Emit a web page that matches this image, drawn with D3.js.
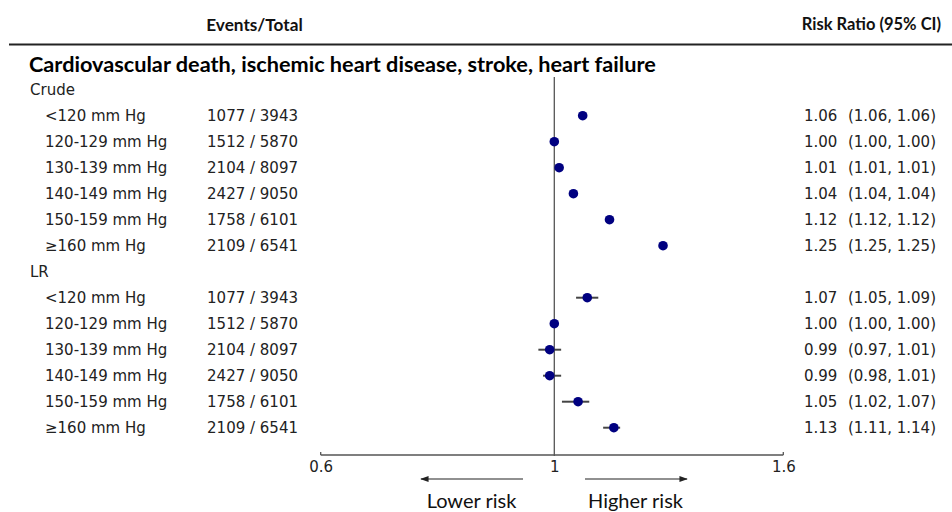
<!DOCTYPE html>
<html>
<head>
<meta charset="utf-8">
<script src="https://cdn.jsdelivr.net/npm/d3@7"></script>
<style>
  body { margin: 0; background: #fff; }
  svg { display: block; }
</style>
</head>
<body>
<script>
const width = 952;
const height = 512;

const title = "Cardiovascular death, ischemic heart disease, stroke, heart failure";
const groups = ["Crude", "LR"];
const categories = ["<120 mm Hg", "120-129 mm Hg", "130-139 mm Hg", "140-149 mm Hg", "150-159 mm Hg", "\u2265160 mm Hg"];
const events = ["1077 / 3943", "1512 / 5870", "2104 / 8097", "2427 / 9050", "1758 / 6101", "2109 / 6541"];

const crude_rr = [1.06, 1.00, 1.01, 1.04, 1.12, 1.25];
const crude_lo = [1.06, 1.00, 1.01, 1.04, 1.12, 1.25];
const crude_hi = [1.06, 1.00, 1.01, 1.04, 1.12, 1.25];

const lr_rr = [1.07, 1.00, 0.99, 0.99, 1.05, 1.13];
const lr_lo = [1.05, 1.00, 0.97, 0.98, 1.02, 1.11];
const lr_hi = [1.09, 1.00, 1.01, 1.01, 1.07, 1.14];

const tick_values = [0.6, 1, 1.6];

const label_font = "'DejaVu Sans', sans-serif";
const head_font = "Lato, 'Open Sans', sans-serif";
const point_color = "#000080";
const line_color = "#555";

// build rows: group header then its six categories
let rows = [];
let series = [[crude_rr, crude_lo, crude_hi], [lr_rr, lr_lo, lr_hi]];
groups.forEach(function(g, gi){
  rows.push({type: "group", label: g});
  categories.forEach(function(c, ci){
    rows.push({
      type: "item", label: c, events: events[ci],
      rr: series[gi][0][ci], lo: series[gi][1][ci], hi: series[gi][2][ci]
    });
  });
});

const row_top = 89.7;
const row_step = 26;
let y = d3.scaleLinear()
          .domain([0, rows.length - 1])
          .range([row_top, row_top + row_step * (rows.length - 1)]);

let x = d3.scaleLog()
          .domain([0.6, 1, 1.6])
          .range([320.7, 554.3, 783.3]);

let svg = d3.select("body").append("svg")
        .attr("width", width)
        .attr("height", height);

// header
svg.append("text")
   .attr("x", 254.5).attr("y", 24)
   .attr("text-anchor", "middle")
   .attr("dominant-baseline", "central")
   .attr("font-family", head_font)
   .attr("font-weight", "bold")
   .attr("font-size", 17.2)
   .attr("fill", "#111")
   .text("Events/Total");

svg.append("text")
   .attr("x", 941).attr("y", 24)
   .attr("text-anchor", "end")
   .attr("dominant-baseline", "central")
   .attr("font-family", head_font)
   .attr("font-weight", "bold")
   .attr("font-size", 16.5)
   .attr("fill", "#111")
   .text("Risk Ratio (95% CI)");

svg.append("line")
   .attr("x1", 9).attr("x2", width)
   .attr("y1", 44.5).attr("y2", 44.5)
   .attr("stroke", "#222")
   .attr("stroke-width", 2);

svg.append("text")
   .attr("x", 29).attr("y", 64)
   .attr("dominant-baseline", "central")
   .attr("font-family", head_font)
   .attr("font-weight", "bold")
   .attr("font-size", 21.7)
   .attr("fill", "#000")
   .text(title);

// reference line at 1
svg.append("line")
   .attr("x1", x(1)).attr("x2", x(1))
   .attr("y1", 77).attr("y2", 456)
   .attr("stroke", line_color)
   .attr("stroke-width", 1.3);

let row_g = svg.selectAll(".row")
   .data(rows)
   .enter().append("g")
   .attr("class", "row")
   .attr("transform", function(d, i){ return "translate(0," + y(i) + ")"; });

row_g.append("text")
   .attr("x", function(d){ return d.type == "group" ? 30 : 45; })
   .attr("dominant-baseline", "central")
   .attr("font-family", label_font)
   .attr("font-size", 15)
   .attr("fill", "#222")
   .text(function(d){ return d.label; });

let items = row_g.filter(function(d){ return d.type == "item"; });

items.append("text")
   .attr("x", 298)
   .attr("text-anchor", "end")
   .attr("dominant-baseline", "central")
   .attr("font-family", label_font)
   .attr("font-size", 15)
   .attr("fill", "#222")
   .text(function(d){ return d.events; });

items.append("text")
   .attr("x", 804)
   .attr("dominant-baseline", "central")
   .attr("font-family", label_font)
   .attr("font-size", 15)
   .attr("fill", "#222")
   .text(function(d){ return d.rr.toFixed(2); });

items.append("text")
   .attr("x", 936)
   .attr("text-anchor", "end")
   .attr("dominant-baseline", "central")
   .attr("font-family", label_font)
   .attr("font-size", 15)
   .attr("fill", "#222")
   .text(function(d){ return "(" + d.lo.toFixed(2) + ", " + d.hi.toFixed(2) + ")"; });

items.filter(function(d){ return d.hi > d.lo; })
   .append("line")
   .attr("x1", function(d){ return x(d.lo) - 2; })
   .attr("x2", function(d){ return x(d.hi) + 2; })
   .attr("stroke", "#444")
   .attr("stroke-width", 2);

items.append("circle")
   .attr("cx", function(d){ return x(d.rr); })
   .attr("r", 4.8)
   .attr("fill", point_color);

// x axis
let axis_y = 455;
let x_axis = d3.axisBottom(x)
   .tickValues(tick_values)
   .tickFormat(d3.format("~g"))
   .tickSize(0)
   .tickSizeOuter(0)
   .tickPadding(6);

let ax = svg.append("g")
   .attr("transform", "translate(0," + axis_y + ")")
   .call(x_axis);
ax.select(".domain").remove();
ax.append("line")
  .attr("x1", x(0.6)).attr("x2", x(1.6))
  .attr("stroke", line_color)
  .attr("stroke-width", 1.3);
ax.selectAll(".end-tick")
  .data([0.6, 1.6])
  .enter().append("line")
  .attr("x1", function(d){ return x(d); })
  .attr("x2", function(d){ return x(d); })
  .attr("y1", -3).attr("y2", 0)
  .attr("stroke", line_color)
  .attr("stroke-width", 1.3);
ax.selectAll(".tick text")
  .attr("font-family", label_font)
  .attr("font-size", 15)
  .attr("fill", "#222");

// direction arrows
svg.append("defs").append("marker")
   .attr("id", "arrow")
   .attr("viewBox", "0 0 10 10")
   .attr("refX", 9).attr("refY", 5)
   .attr("markerWidth", 7).attr("markerHeight", 7)
   .attr("orient", "auto-start-reverse")
   .append("path")
   .attr("d", "M0,1.5 L10,5 L0,8.5 Z")
   .attr("fill", "#222");

svg.append("line")
   .attr("x1", 523).attr("x2", 421)
   .attr("y1", 479).attr("y2", 479)
   .attr("stroke", "#222")
   .attr("stroke-width", 1.2)
   .attr("marker-end", "url(#arrow)");

svg.append("line")
   .attr("x1", 585).attr("x2", 687)
   .attr("y1", 479).attr("y2", 479)
   .attr("stroke", "#222")
   .attr("stroke-width", 1.2)
   .attr("marker-end", "url(#arrow)");

svg.append("text")
   .attr("x", 471.5).attr("y", 500)
   .attr("text-anchor", "middle")
   .attr("dominant-baseline", "central")
   .attr("font-family", head_font)
   .attr("font-size", 20)
   .attr("fill", "#111")
   .text("Lower risk");

svg.append("text")
   .attr("x", 635.5).attr("y", 500)
   .attr("text-anchor", "middle")
   .attr("dominant-baseline", "central")
   .attr("font-family", head_font)
   .attr("font-size", 20)
   .attr("fill", "#111")
   .text("Higher risk");
</script>
</body>
</html>
